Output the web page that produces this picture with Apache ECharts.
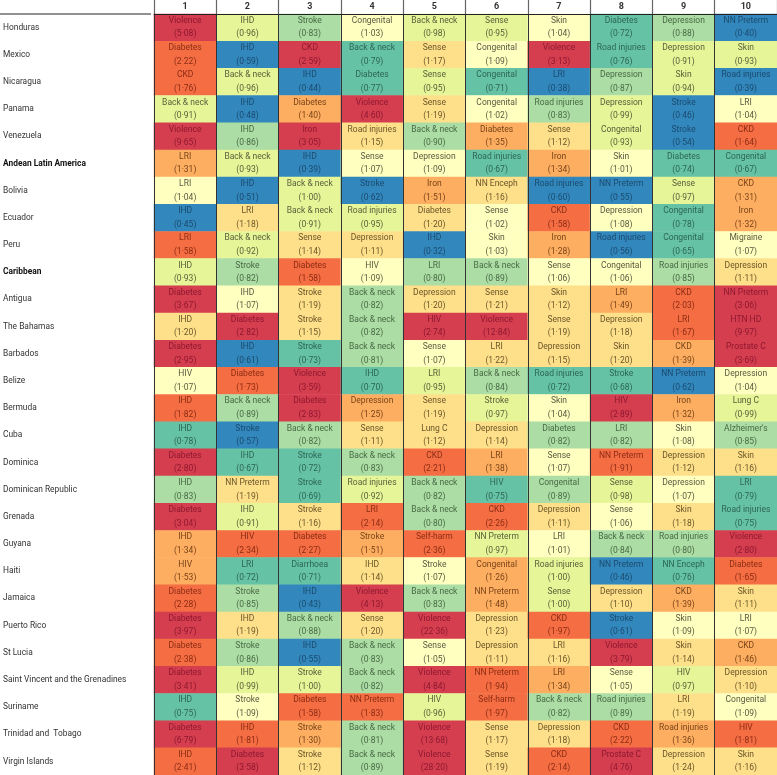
<!DOCTYPE html>
<html><head><meta charset="utf-8">
<script src="https://cdn.jsdelivr.net/npm/echarts@6/dist/echarts.min.js"></script>
<style>html,body{margin:0;padding:0;background:#fff}#c{width:777px;height:775px}</style>
</head><body><div id="c"></div>
<script>
const ranks = ['1','2','3','4','5','6','7','8','9','10'];
const countries = ['Honduras','Mexico','Nicaragua','Panama','Venezuela','Andean Latin America','Bolivia','Ecuador','Peru','Caribbean','Antigua','The Bahamas','Barbados','Belize','Bermuda','Cuba','Dominica','Dominican Republic','Grenada','Guyana','Haiti','Jamaica','Puerto Rico','St Lucia','Saint Vincent and the Grenadines','Suriname','Trinidad and  Tobago','Virgin Islands'];
const regionRows = ['Andean Latin America','Caribbean'];
const causes = [
 ['Violence','IHD','Stroke','Congenital','Back & neck','Sense','Skin','Diabetes','Depression','NN Preterm'],
 ['Diabetes','IHD','CKD','Back & neck','Sense','Congenital','Violence','Road injuries','Depression','Skin'],
 ['CKD','Back & neck','IHD','Diabetes','Sense','Congenital','LRI','Depression','Skin','Road injuries'],
 ['Back & neck','IHD','Diabetes','Violence','Sense','Congenital','Road injuries','Depression','Stroke','LRI'],
 ['Violence','IHD','Iron','Road injuries','Back & neck','Diabetes','Sense','Congenital','Stroke','CKD'],
 ['LRI','Back & neck','IHD','Sense','Depression','Road injuries','Iron','Skin','Diabetes','Congenital'],
 ['LRI','IHD','Back & neck','Stroke','Iron','NN Enceph','Road injuries','NN Preterm','Sense','CKD'],
 ['IHD','LRI','Back & neck','Road injuries','Diabetes','Sense','CKD','Depression','Congenital','Iron'],
 ['LRI','Back & neck','Sense','Depression','IHD','Skin','Iron','Road injuries','Congenital','Migraine'],
 ['IHD','Stroke','Diabetes','HIV','LRI','Back & neck','Sense','Congenital','Road injuries','Depression'],
 ['Diabetes','IHD','Stroke','Back & neck','Depression','Sense','Skin','LRI','CKD','NN Preterm'],
 ['IHD','Diabetes','Stroke','Back & neck','HIV','Violence','Sense','Depression','LRI','HTN HD'],
 ['Diabetes','IHD','Stroke','Back & neck','Sense','LRI','Depression','Skin','CKD','Prostate C'],
 ['HIV','Diabetes','Violence','IHD','LRI','Back & neck','Road injuries','Stroke','NN Preterm','Depression'],
 ['IHD','Back & neck','Diabetes','Depression','Sense','Stroke','Skin','HIV','Iron','Lung C'],
 ['IHD','Stroke','Back & neck','Sense','Lung C','Depression','Diabetes','LRI','Skin',"Alzheimer's"],
 ['Diabetes','IHD','Stroke','Back & neck','CKD','LRI','Sense','NN Preterm','Depression','Skin'],
 ['IHD','NN Preterm','Stroke','Road injuries','Back & neck','HIV','Congenital','Sense','Depression','LRI'],
 ['Diabetes','IHD','Stroke','LRI','Back & neck','CKD','Depression','Sense','Skin','Road injuries'],
 ['IHD','HIV','Diabetes','Stroke','Self-harm','NN Preterm','LRI','Back & neck','Road injuries','Violence'],
 ['HIV','LRI','Diarrhoea','IHD','Stroke','Congenital','Road injuries','NN Preterm','NN Enceph','Diabetes'],
 ['Diabetes','Stroke','IHD','Violence','Back & neck','NN Preterm','Sense','Depression','CKD','Skin'],
 ['Diabetes','IHD','Back & neck','Sense','Violence','Depression','CKD','Stroke','Skin','LRI'],
 ['Diabetes','Stroke','IHD','Back & neck','Sense','Depression','LRI','Violence','Skin','CKD'],
 ['Diabetes','IHD','Stroke','Back & neck','Violence','NN Preterm','LRI','Sense','HIV','Depression'],
 ['IHD','Stroke','Diabetes','NN Preterm','HIV','Self-harm','Back & neck','Road injuries','LRI','Congenital'],
 ['Diabetes','IHD','Stroke','Back & neck','Violence','Sense','Depression','CKD','Road injuries','HIV'],
 ['IHD','Diabetes','Stroke','Back & neck','Violence','Sense','CKD','Prostate C','Depression','Skin']
];
const ratios = [
 [5.08,0.96,0.83,1.03,0.98,0.95,1.04,0.72,0.88,0.40],
 [2.22,0.59,2.59,0.79,1.17,1.09,3.13,0.76,0.91,0.93],
 [1.76,0.96,0.44,0.77,0.95,0.71,0.38,0.87,0.94,0.39],
 [0.91,0.48,1.40,4.60,1.19,1.02,0.83,0.99,0.46,1.04],
 [9.65,0.86,3.05,1.15,0.90,1.35,1.12,0.93,0.54,1.64],
 [1.31,0.93,0.39,1.07,1.09,0.67,1.34,1.01,0.74,0.67],
 [1.04,0.51,1.00,0.62,1.51,1.16,0.60,0.55,0.97,1.31],
 [0.45,1.18,0.91,0.95,1.20,1.02,1.58,1.08,0.78,1.32],
 [1.58,0.92,1.14,1.11,0.32,1.03,1.28,0.56,0.65,1.07],
 [0.93,0.82,1.58,1.09,0.80,0.89,1.06,1.06,0.85,1.11],
 [3.67,1.07,1.19,0.82,1.20,1.21,1.12,1.49,2.03,3.06],
 [1.20,2.82,1.15,0.82,2.74,12.84,1.19,1.18,1.67,9.97],
 [2.95,0.61,0.73,0.81,1.07,1.22,1.15,1.20,1.39,3.69],
 [1.07,1.73,3.59,0.70,0.95,0.84,0.72,0.68,0.62,1.04],
 [1.82,0.89,2.83,1.25,1.19,0.97,1.04,2.89,1.32,0.99],
 [0.78,0.57,0.82,1.11,1.12,1.14,0.82,0.82,1.08,0.85],
 [2.80,0.67,0.72,0.83,2.21,1.38,1.07,1.91,1.12,1.16],
 [0.83,1.19,0.69,0.92,0.82,0.75,0.89,0.98,1.07,0.79],
 [3.04,0.91,1.16,2.14,0.80,2.26,1.11,1.06,1.18,0.75],
 [1.34,2.34,2.27,1.51,2.36,0.97,1.01,0.84,0.80,2.80],
 [1.53,0.72,0.71,1.14,1.07,1.26,1.00,0.46,0.76,1.65],
 [2.28,0.85,0.43,4.13,0.83,1.48,1.00,1.10,1.39,1.11],
 [3.97,1.19,0.88,1.20,22.36,1.23,1.97,0.61,1.09,1.07],
 [2.38,0.86,0.55,0.83,1.05,1.11,1.16,3.79,1.14,1.46],
 [3.41,0.99,1.00,0.82,4.84,1.94,1.34,1.05,0.97,1.10],
 [0.75,1.09,1.58,1.83,0.96,1.97,0.82,0.89,1.19,1.09],
 [6.79,1.81,1.30,0.81,13.68,1.17,1.18,2.22,1.36,1.81],
 [2.41,3.58,1.12,0.89,28.20,1.19,2.14,4.76,1.24,1.16]
];
const binEdges = [0.635,0.795,0.905,1.005,1.095,1.245,1.555,2.5];
const binColors = ['#3288bd','#66c2a5','#abdda4','#e6f598','#ffffbf','#fee08b','#fdae61','#f46d43','#d53e4f'];
const binText = ['#1b4a6e','#2c6655','#4a6a46','#5a5f3a','#5a5a44','#6a5628','#7a4418','#8c2c14','#8e1830'];

function binOf(v){ let i=0; while(i<binEdges.length && v>=binEdges[i]) i++; return i; }

const pieces = binColors.map((c,i)=>{
  const p = {color:c};
  if (i>0) p.gte = binEdges[i-1];
  if (i<binEdges.length) p.lt = binEdges[i];
  return p;
});

const data = [];
countries.forEach((cn,r)=>{
  ratios[r].forEach((v,c)=>{
    data.push({value:[c,r,v], name:causes[r][c], label:{color:binText[binOf(v)]}});
  });
});

const FONT = 'Roboto, "Liberation Sans", sans-serif';
const chart = echarts.init(document.getElementById('c'), null, {renderer:'canvas'});
chart.setOption({
  animation:false,
  backgroundColor:'#fff',
  grid:{left:151, right:0, top:14, bottom:0},
  xAxis:{
    type:'category', data:ranks, position:'top', z:5,
    axisLine:{show:true, lineStyle:{color:'#222', width:1}},
    axisTick:{show:true, length:14, lineStyle:{color:'#666', width:1.2}},
    axisLabel:{fontFamily:FONT, fontSize:9, fontWeight:'bold', color:'#333', margin:3},
    splitLine:{show:true, lineStyle:{color:'#333', width:1}}
  },
  yAxis:{
    type:'category', data:countries, inverse:true,
    axisLine:{show:false}, axisTick:{show:false}, splitLine:{show:false},
    axisLabel:{
      align:'left', margin:151, fontFamily:FONT, fontSize:8.4, color:'#333',
      formatter:(v)=> regionRows.includes(v) ? '{b|'+v+'}' : v,
      rich:{b:{fontFamily:FONT, fontSize:8.4, fontWeight:'bold', color:'#111'}}
    }
  },
  visualMap:{type:'piecewise', show:false, dimension:2, seriesIndex:0, pieces:pieces},
  graphic:[{type:'line', shape:{x1:0,y1:14,x2:151,y2:14}, style:{stroke:'#222', lineWidth:1}}],
  series:[{
    type:'heatmap', data:data,
    itemStyle:{borderWidth:0},
    label:{
      show:true, fontFamily:FONT, fontSize:8.5, lineHeight:13.5,
      formatter:(p)=> p.name + '\n(' + p.value[2].toFixed(2).replace('.','\u00b7') + ')'
    },
    emphasis:{disabled:true}
  }]
});
</script></body></html>
